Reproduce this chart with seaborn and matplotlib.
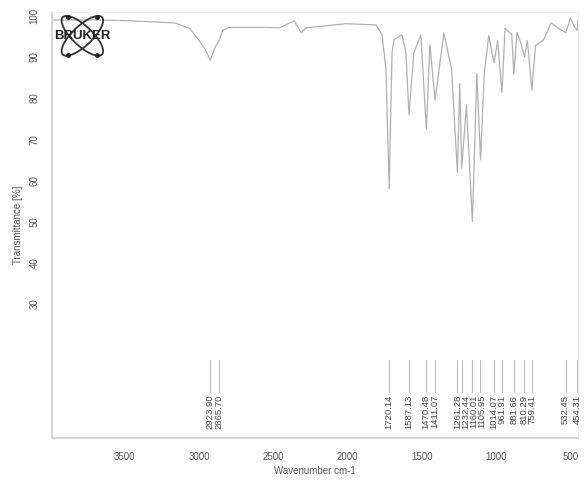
import numpy as np
import pandas as pd
import seaborn as sns
import matplotlib.pyplot as plt
from matplotlib.patches import Ellipse

# spectrum: wavenumber (cm-1) and transmittance (%)
wavenumber = [3990, 3668, 3466, 3164, 3064, 3010, 2960, 2925, 2890, 2865, 2840,
              2800, 2560, 2460, 2360, 2312, 2279, 2010, 1809, 1768, 1742, 1720,
              1701, 1688, 1634, 1607, 1587, 1554, 1507, 1470, 1446, 1411, 1352,
              1300, 1261, 1245, 1232, 1200, 1160, 1130, 1105, 1080, 1050, 1014,
              990, 961, 940, 895, 881, 860, 830, 810, 790, 759, 735, 680, 630,
              580, 532, 500, 475, 454, 448]
transmittance = [99.0, 99.0, 98.8, 98.3, 97.0, 94.5, 92.0, 89.2, 92.5, 94.0, 96.5,
                 97.2, 97.2, 97.1, 98.8, 95.9, 97.1, 98.1, 97.8, 95.4, 87.0, 58.0,
                 91.0, 94.2, 95.4, 91.0, 76.0, 91.0, 95.4, 72.5, 93.0, 79.5, 95.9,
                 87.0, 62.0, 83.5, 62.8, 78.3, 50.0, 86.0, 65.0, 86.0, 95.2, 88.6,
                 94.0, 81.4, 97.0, 95.4, 85.8, 96.0, 93.0, 90.0, 94.0, 82.0, 92.8,
                 94.2, 98.3, 97.0, 95.9, 99.5, 97.5, 96.5, 99.0]

peak_labels = ["2923.90", "2865.70", "1720.14", "1587.13", "1470.48", "1411.07",
               "1261.28", "1232.44", "1160.01", "1105.95", "1014.07", "961.91",
               "881.66", "810.29", "759.41", "532.45", "454.31"]

yticks = [30, 40, 50, 60, 70, 80, 90, 100]
xticks = [3500, 3000, 2500, 2000, 1500, 1000, 500]


def spread(xs, gap):
    # push label columns apart so the rotated texts do not touch
    out = list(xs)
    for i in range(1, len(out)):
        if out[i] - out[i - 1] < gap:
            out[i] = out[i - 1] + gap
    return out


def main():
    sns.set_style("white")
    plt.rcParams['font.family'] = ['Liberation Sans', 'DejaVu Sans']

    df = pd.DataFrame({'wavenumber': wavenumber, 'transmittance': transmittance})

    fig = plt.figure(figsize=(5.84, 4.91), dpi=100)
    ax = fig.add_axes([0.089, 0.108, 0.901, 0.868])
    sns.lineplot(data=df, x='wavenumber', y='transmittance', ax=ax,
                 color='#b0b0b0', linewidth=0.9)
    ax.set_xlim(3990, 448)
    ax.set_ylim(-2.7, 101)

    for s in ['top', 'right']:
        ax.spines[s].set_color('#f0f0f0')
    for s in ['left', 'bottom']:
        ax.spines[s].set_color('#cfcfcf')
        ax.spines[s].set_linewidth(1.2)

    ax.set_yticks(yticks)
    ax.set_yticklabels([str(v) for v in yticks], rotation=90, va='center',
                       fontsize=7, color='#555555')
    ax.set_xticks(xticks)
    ax.set_xticklabels([str(v) for v in xticks], fontsize=7, color='#555555')
    ax.tick_params(axis='y', length=3, color='#cccccc', pad=6)
    ax.tick_params(axis='x', length=0, pad=10)

    ax.set_xlabel('Wavenumber cm-1', fontsize=7, color='#555555', labelpad=3)
    ax.set_ylabel('Transmittance [%]', fontsize=7, color='#555555', labelpad=5)

    # peak annotations
    fig.canvas.draw()
    peaks = [float(p) for p in peak_labels]
    px = [ax.transData.transform((w, 0))[0] for w in peaks]
    px = spread(px, 8.0)
    inv = ax.transData.inverted()
    for lab, w, p in zip(peak_labels, peaks, px):
        ax.plot([w, w], [8.4, 16.2], color='#bbbbbb', linewidth=0.8)
        tx = inv.transform((p, 0))[0]
        ax.text(tx, 7.8, lab, rotation=90, ha='center', va='top', fontsize=6.8,
                color='#444444')

    # logo
    lx = fig.add_axes([0.098, 0.878, 0.086, 0.098])
    lx.set_xlim(-1, 1)
    lx.set_ylim(-1, 1)
    lx.axis('off')
    for ang in (45, -45):
        lx.add_patch(Ellipse((0, 0), 2.2, 0.8, angle=ang, fill=False,
                             edgecolor='#333333', linewidth=1.3))
    lx.plot([-0.58, 0.58, -0.58, 0.58], [0.8, -0.8, -0.8, 0.8], 'o',
            color='#222222', markersize=2.5)
    lx.text(0, 0.0, 'BRUKER', ha='center', va='center', fontsize=9.5,
            fontweight='bold', color='#222222')

    fig.savefig('out.png', dpi=100)


if __name__ == '__main__':
    main()
